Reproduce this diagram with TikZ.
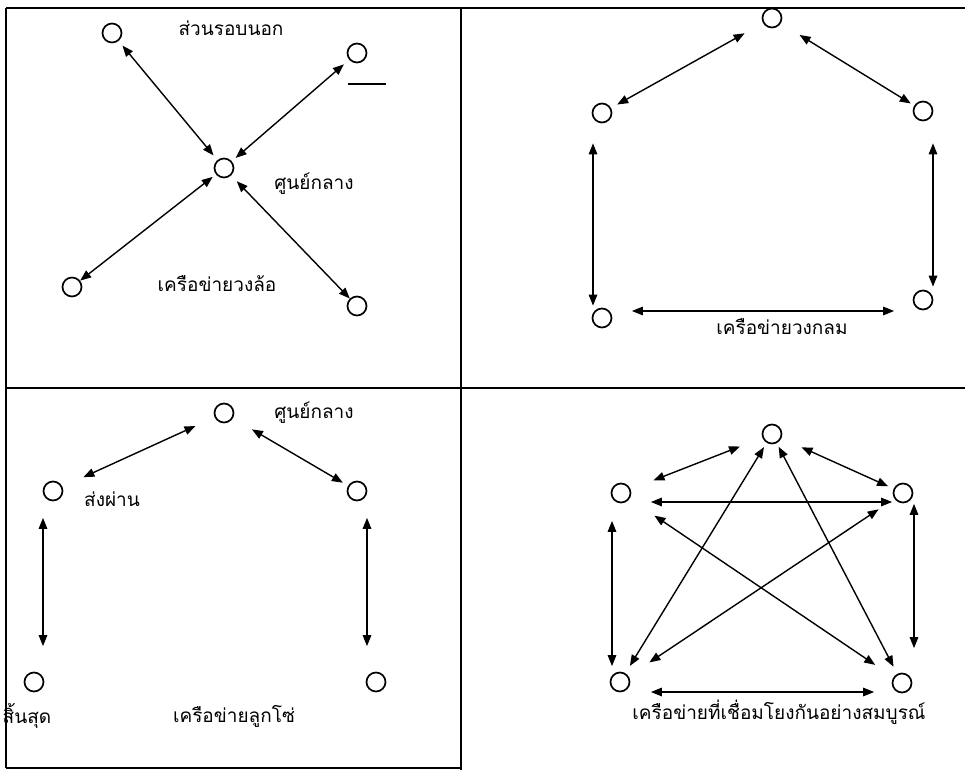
\documentclass[tikz,border=0pt]{standalone}
\usepackage{fontspec}
\newfontfamily\thaifont[Script=Thai]{Loma}
\usetikzlibrary{arrows.meta}
\tikzset{
  nd/.style={circle, draw, line width=1.7pt, minimum size=19pt, inner sep=0pt},
  arr/.style={{Triangle[length=11pt,width=8.5pt]}-{Triangle[length=11pt,width=8.5pt]}, line width=1.4pt},
  lbl/.style={font=\thaifont\fontsize{19pt}{22pt}\selectfont, inner sep=0pt},
  frame/.style={line width=2pt}
}
\begin{document}
\begin{tikzpicture}[x=1pt,y=-1pt]
\useasboundingbox (0,0) rectangle (965,770);
% frame
\draw[frame] (6,8) -- (965,8);
\draw[frame] (6,8) -- (6,768);
\draw[frame] (6,768) -- (461,768);
\draw[frame, line width=2.4pt] (461,8) -- (461,770);
\draw[frame] (6,388) -- (965,388);

% Q1 wheel
\node[nd] (a1) at (112,33) {};
\node[nd] (a2) at (357,53) {};
\node[nd] (ac) at (224,168) {};
\node[nd] (a3) at (72,287) {};
\node[nd] (a4) at (357,306) {};
\draw[line width=1.5pt] (348,84) -- (386,84);
\node[lbl] (t1) at (231,28) {ส่วนรอบนอก};
\node[lbl] (t2) at (314,184) {ศูนย์กลาง};
\node[lbl] (t3) at (217,284) {เครือข่ายวงล้อ};
\draw[arr, shorten <=6pt, shorten >=6pt] (a1) -- (ac);
\draw[arr, shorten <=7pt, shorten >=5pt] (a2) -- (ac);
\draw[arr, shorten <=0pt, shorten >=4pt] (a3) -- (ac);
\draw[arr, shorten <=0pt, shorten >=8pt] (a4) -- (ac);

% Q2 ring
\node[nd] (bt) at (772,18) {};
\node[nd] (bl) at (602,113) {};
\node[nd] (br) at (923,111) {};
\node[nd] (bbl) at (602,318) {};
\node[nd] (bbr) at (923,300) {};
\node[lbl] (t4) at (782,327) {เครือข่ายวงกลม};
\draw[arr, shorten <=21pt, shorten >=7pt] (bt) -- (bl);
\draw[arr, shorten <=22pt, shorten >=4pt] (bt) -- (br);
\draw[arr, shorten <=20pt, shorten >=2pt] ([xshift=-9pt]bl.south) -- ([xshift=-9pt]bbl.north);
\draw[arr, shorten <=22pt, shorten >=3pt] ([xshift=10pt]br.south) -- ([xshift=10pt]bbr.north);
\draw[arr, shorten <=19.5pt, shorten >=18.5pt] ([yshift=7pt]bbl.east) -- ([yshift=-11pt]bbr.west);

% Q3 chain
\node[nd] (ct) at (224,413) {};
\node[nd] (cl) at (53,491) {};
\node[nd] (cr) at (357,491) {};
\node[nd] (cbl) at (34,682) {};
\node[nd] (cbr) at (376,682) {};
\node[lbl] (t5) at (314,413) {ศูนย์กลาง};
\node[lbl] (t6) at (112,499) {ส่งผ่าน};
\node[lbl] (t7) at (27,716) {สิ้นสุด};
\node[lbl] (t8) at (234,716) {เครือข่ายลูกโซ่};
\draw[arr, shorten <=21pt, shorten >=23pt] (ct) -- (cl);
\draw[arr, shorten <=22pt, shorten >=6pt] (ct) -- (cr);
\draw[arr, shorten <=16.5pt, shorten >=25.5pt] ([xshift=-10pt]cl.south) -- ([xshift=9pt]cbl.north);
\draw[arr, shorten <=16.5pt, shorten >=25.5pt] ([xshift=10pt]cr.south) -- ([xshift=-9pt]cbr.north);

% Q4 fully connected
\node[nd] (dt) at (772,434) {};
\node[nd] (dl) at (621,493) {};
\node[nd] (dr) at (903,493) {};
\node[nd] (dbl) at (620,682) {};
\node[nd] (dbr) at (902,683) {};
\node[lbl] (t9) at (779,712) {เครือข่ายที่เชื่อมโยงกันอย่างสมบูรณ์};
\draw[arr, shorten <=24pt, shorten >=24.5pt] (dt) -- (dl);
\draw[arr, shorten <=22pt, shorten >=6pt] (dt) -- (dr);
\draw[arr, shorten <=19.5pt, shorten >=0.5pt] ([yshift=-9pt]dl.east) -- ([yshift=-9pt]dr.west);
\draw[arr, shorten <=30pt, shorten >=22pt] (dl) -- (dbr);
\draw[arr, shorten <=19pt, shorten >=25pt] (dr) -- (dbl);
\draw[arr, shorten <=5pt, shorten >=8.5pt] (dt) -- (dbl);
\draw[arr, shorten <=4pt, shorten >=8pt] (dt) -- (dbr);
\draw[arr, shorten <=17.5pt, shorten >=5.5pt] ([xshift=-9pt]dl.south) -- ([xshift=-8pt]dbl.north);
\draw[arr, shorten <=0.5pt, shorten >=24.5pt] ([xshift=11pt]dr.south) -- ([xshift=12pt]dbr.north);
\draw[arr, shorten <=20.5pt, shorten >=17.5pt] ([yshift=-10pt]dbl.east) -- ([yshift=-9pt]dbr.west);
\end{tikzpicture}
\end{document}
